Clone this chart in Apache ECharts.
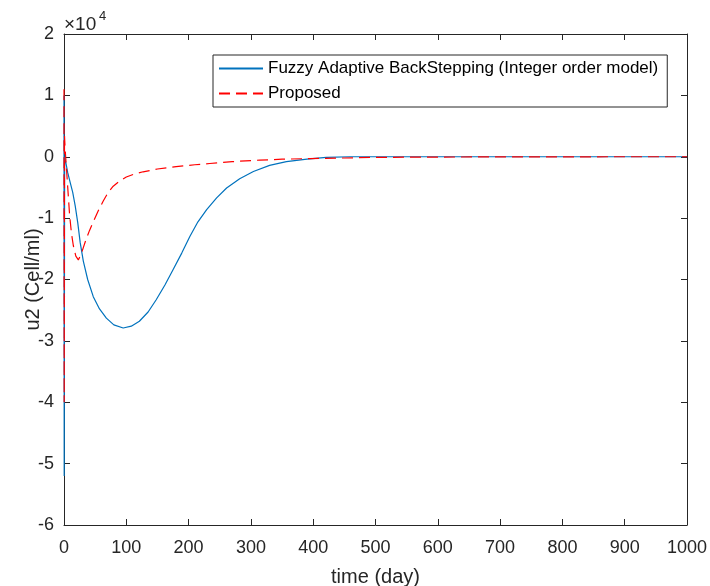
<!DOCTYPE html>
<html>
<head>
<meta charset="utf-8">
<title>u2 response</title>
<script src="https://cdn.jsdelivr.net/npm/echarts@6/dist/echarts.min.js"></script>
<style>
  html, body { margin: 0; padding: 0; background: #fff; }
  #chart { width: 710px; height: 586px; }
</style>
</head>
<body>
<div id="chart"></div>
<script>
// values (u2 in units of 1e4 Cell/ml, time in days)
var fabTime = [0, 0.3, 1, 3, 6, 10, 14, 18, 22, 26, 31, 38, 47, 57, 68, 80, 95, 108, 121, 135, 148, 162, 175, 189, 202, 215, 229, 245, 261, 282, 304, 330, 357, 390, 421, 460, 600, 800, 1000]
var fabU2 = [1.0, -5.2, 0, -0.1, -0.26, -0.42, -0.58, -0.8, -1.07, -1.4, -1.7, -2.0, -2.28, -2.48, -2.63, -2.74, -2.79, -2.76, -2.68, -2.53, -2.33, -2.09, -1.84, -1.57, -1.3, -1.06, -0.86, -0.67, -0.51, -0.36, -0.24, -0.14, -0.08, -0.04, -0.01, 0, 0, 0, 0]

var propTime = [0, 0.3, 0.8, 2, 4, 6, 9, 12, 15, 19, 23, 27, 31, 36, 41, 47, 55, 63, 71, 79, 90, 100, 113, 127, 150, 180, 210, 234, 270, 314, 350, 395, 450, 500, 600, 700, 800, 900, 1000]
var propU2 = [1.1, -4.0, 0.34, 0.1, -0.2, -0.5, -0.95, -1.25, -1.45, -1.62, -1.68, -1.6, -1.48, -1.33, -1.2, -1.06, -0.88, -0.72, -0.58, -0.48, -0.39, -0.33, -0.28, -0.245, -0.2, -0.16, -0.13, -0.11, -0.08, -0.055, -0.04, -0.03, -0.02, -0.01, -0.005, -0.002, -0.001, 0, 0]

var xTicks = { min: 0, max: 1000, step: 100 }
var yTicks = { min: -60000, max: 20000, step: 10000 }
var seriesNames = ['Fuzzy Adaptive BackStepping (Integer order model)', 'Proposed']

function pairs(xs, ys) {
  return xs.map(function (x, i) { return [x, ys[i] * 10000] })
}

var txt = '#262626'
var font = 'Liberation Sans, Arial, Helvetica, sans-serif'

function boxAxis(extra) {
  var base = {
    type: 'value',
    axisLine: { show: true, onZero: false, lineStyle: { color: txt } },
    axisTick: { show: true, inside: true, length: 6, lineStyle: { color: txt } },
    splitLine: { show: false }
  }
  return Object.assign(base, extra)
}

var chart = echarts.init(document.getElementById('chart'))
chart.setOption({
  animation: false,
  textStyle: { fontFamily: font },
  grid: {
    left: 64,
    right: 23,
    top: 34,
    bottom: 61,
    outerBoundsMode: 'none'
  },
  graphic: [
    { type: 'text', left: 64, top: 15, style: { text: '×10', fontSize: 19, fontFamily: font, fill: txt } },
    { type: 'text', left: 99, top: 10, style: { text: '4', fontSize: 13, fontFamily: font, fill: txt } }
  ],
  legend: {
    orient: 'vertical',
    left: 213,
    top: 55,
    padding: [5, 9, 5, 5],
    itemWidth: 44,
    itemHeight: 14,
    itemGap: 8,
    backgroundColor: '#fff',
    borderColor: txt,
    borderWidth: 1,
    itemStyle: { opacity: 0 },
    textStyle: { fontSize: 17, color: '#000', fontFamily: font },
    data: seriesNames
  },
  xAxis: [
    boxAxis({
      min: xTicks.min,
      max: xTicks.max,
      interval: xTicks.step,
      name: 'time (day)',
      nameLocation: 'middle',
      nameGap: 42,
      nameMoveOverlap: false,
      nameTextStyle: { fontSize: 20, color: txt },
      axisLabel: { fontSize: 18, color: txt, margin: 14, formatter: function (v) { return String(v) } }
    }),
    boxAxis({
      position: 'top',
      min: xTicks.min,
      max: xTicks.max,
      interval: xTicks.step,
      axisLabel: { show: false }
    })
  ],
  yAxis: [
    boxAxis({
      min: yTicks.min,
      max: yTicks.max,
      interval: yTicks.step,
      name: 'u2 (Cell/ml)',
      nameLocation: 'middle',
      nameGap: 21,
      nameMoveOverlap: false,
      nameTextStyle: { fontSize: 20, color: txt },
      axisLabel: {
        fontSize: 18,
        color: txt,
        margin: 10,
        formatter: function (v) { return String(v / 10000) }
      }
    }),
    boxAxis({
      position: 'right',
      min: yTicks.min,
      max: yTicks.max,
      interval: yTicks.step,
      axisLabel: { show: false }
    })
  ],
  series: [
    {
      name: seriesNames[0],
      type: 'line',
      symbol: 'none',
      color: '#0072BD',
      lineStyle: { width: 1.2, color: '#0072BD' },
      data: pairs(fabTime, fabU2)
    },
    {
      name: seriesNames[1],
      type: 'line',
      symbol: 'none',
      color: '#FF0000',
      lineStyle: { width: 1.2, color: '#FF0000', type: [11, 6] },
      data: pairs(propTime, propU2)
    }
  ]
})
</script>
</body>
</html>
